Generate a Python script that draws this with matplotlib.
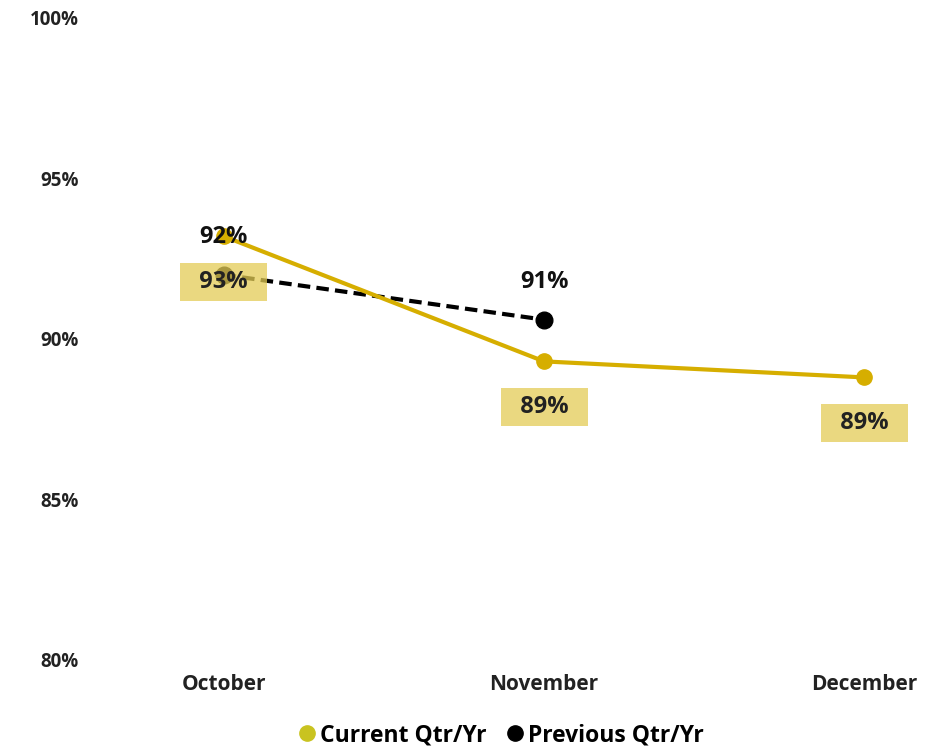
import matplotlib
matplotlib.use("Agg")
from matplotlib import pyplot as plt
from matplotlib.lines import Line2D

# Data
months = ["October", "November", "December"]
current = [93.2, 89.3, 88.8]
current_labels = ["93%", "89%", "89%"]
previous = [92.0, 90.6]
previous_labels = ["92%", "91%"]
yticks = [80, 85, 90, 95, 100]

gold = "#D6AE00"
legend_gold = "#C9C320"
plt.rcParams['font.family'] = ['Open Sans', 'DejaVu Sans']

fig = plt.figure(figsize=(9.35, 7.49), dpi=100)
ax = fig.add_axes([0.102, 0.119, 0.898, 0.857])

x = list(range(len(months)))
ax.plot(x, current, color=gold, lw=3, marker='o', ms=11, zorder=3)
ax.plot(x[:len(previous)], previous, color='black', lw=3, ls=(0, (3, 1.5)),
        marker='o', ms=12, zorder=2)

# Data labels (spaces widen the highlight box)
for xi, v, lab in zip(x, current, current_labels):
    ax.annotate("  " + lab + "  ", (xi, v), xytext=(0, -33), textcoords='offset points',
                ha='center', va='center', fontsize=17, fontweight='bold',
                color='#222222', zorder=4,
                bbox=dict(boxstyle='square,pad=0.3', fc='#E3CC55', ec='none', alpha=0.75))
for xi, v, lab in zip(x, previous, previous_labels):
    ax.annotate(lab, (xi, v), xytext=(0, 27), textcoords='offset points',
                ha='center', va='center', fontsize=17, fontweight='bold',
                color='#111111', zorder=5)

ax.set_xlim(-0.4, 2.22)
ax.set_ylim(80, 100)
ax.set_yticks(yticks)
ax.set_yticklabels([f"{t}%" for t in yticks])
ax.set_xticks(x)
ax.set_xticklabels(months)
for s in ax.spines.values():
    s.set_visible(False)
ax.tick_params(length=0)
ax.tick_params(axis='y', pad=12, labelsize=13.5, labelcolor='#222222')
ax.tick_params(axis='x', pad=10, labelsize=15, labelcolor='#222222')
for t in ax.get_xticklabels() + ax.get_yticklabels():
    t.set_fontweight('bold')

handles = [
    Line2D([], [], ls='none', marker='o', ms=11, color=legend_gold),
    Line2D([], [], ls='none', marker='o', ms=11, color='black'),
]
fig.legend(handles, ["Current Qtr/Yr", "Previous Qtr/Yr"], loc='center',
           bbox_to_anchor=(0.535, 0.018), ncol=2, frameon=False,
           prop={'size': 16.5, 'weight': 'bold'}, handletextpad=0.1,
           columnspacing=0.8, handlelength=0.9)

fig.savefig("out.png", dpi=100)
